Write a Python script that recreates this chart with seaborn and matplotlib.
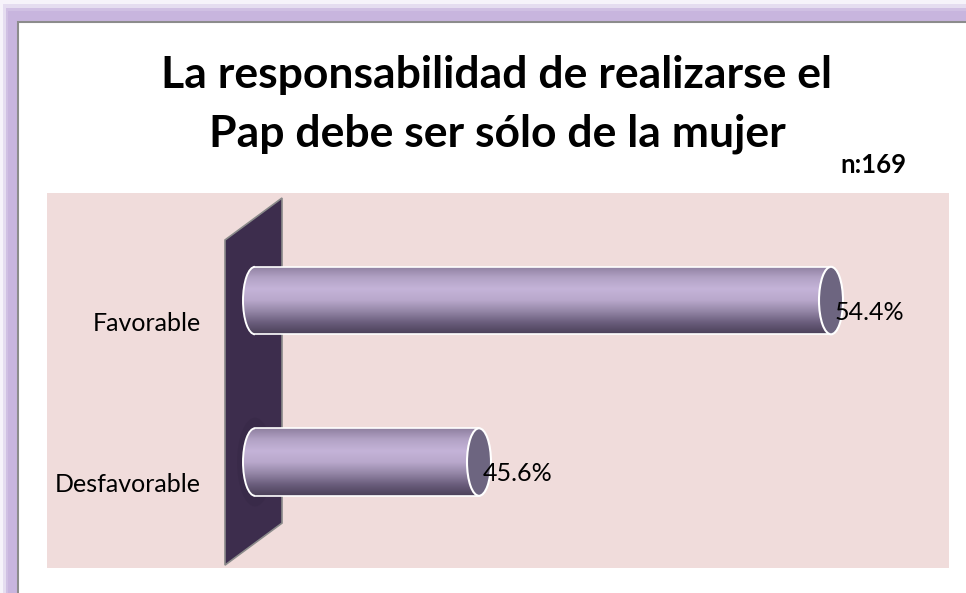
import numpy as np
import matplotlib
matplotlib.use('Agg')
import matplotlib.pyplot as plt
import seaborn as sns
from matplotlib.patches import Polygon, Ellipse, Rectangle, Arc
from matplotlib.colors import LinearSegmentedColormap

# chart data
title_lines = ['La responsabilidad de realizarse el', 'Pap debe ser sólo de la mujer']
sample_note = 'n:169'
categories = ['Favorable', 'Desfavorable']
values = [54.4, 45.6]
axis_min = 40.0   # the value axis does not start at zero

W, H = 966, 593

sns.set_theme(style='white')
plt.rcParams['font.family'] = ['Lato', 'DejaVu Sans']
plt.rcParams['text.color'] = 'black'


def fx(px):
    return px / W


def fy(py):
    return 1 - py / H


fig = plt.figure(figsize=(W / 100, H / 100), dpi=100)
fig.patch.set_facecolor('white')

# lavender glow round the white card
glow = '#c8b5de'
for dx, dy, a in [(18, 22, 0.15), (15, 18, 0.35), (12, 14, 0.7), (10, 11, 1.0)]:
    fig.patches.append(Rectangle((fx(18 - dx), 0), 1.5, fy(22 - dy), transform=fig.transFigure,
                                 facecolor=glow, edgecolor='none', alpha=a, zorder=0))
fig.patches.append(Rectangle((fx(18), -0.1), 1.5, fy(22) + 0.1, transform=fig.transFigure,
                             facecolor='white', edgecolor='#8c8c8c', lw=1.5, zorder=0.5))

ax = fig.add_axes([fx(47), fy(568), (949 - 47) / W, (568 - 193) / H])
ax.set_zorder(2)
ax.set_facecolor('#f0dcdb')

bar_h = 0.418
shifted = [v - axis_min for v in values]
sns.barplot(x=shifted, y=categories, orient='h', width=bar_h, color='#c4b3d8',
            saturation=1, ax=ax)

# the back wall of the 3-d chart
wall = Polygon([(-0.75, -0.375), (0.675, -0.635), (0.675, 1.378), (-0.75, 1.638)],
               closed=True, facecolor='#3d2d4d', edgecolor='#8a8a8a', lw=1.2, zorder=1)
ax.add_patch(wall)
for s, a in [(1.0, 0.08), (0.75, 0.1), (0.5, 0.12), (0.3, 0.15)]:
    ax.add_patch(Ellipse((0.0, 1.0), 0.9 * s, 0.55 * s, facecolor='#150c1f',
                         edgecolor='none', alpha=a, zorder=1.5))

cmap = LinearSegmentedColormap.from_list(
    'cyl', ['#8e7f9f', '#b2a2c5', '#c4b3d8', '#b9a8cc', '#9486a6', '#6a5d7c', '#4b4058'])
grad = np.linspace(0, 1, 256).reshape(-1, 1)
cap_w = 0.6

for patch, v in zip(list(ax.patches), values):
    if not isinstance(patch, Rectangle):
        continue
    x0, y0 = patch.get_x(), patch.get_y()
    w, h = patch.get_width(), patch.get_height()
    yc = y0 + h / 2
    patch.set_facecolor('none')
    patch.set_edgecolor('none')
    left = Ellipse((x0, yc), cap_w, h, transform=ax.transData)
    for shape in (patch, left):
        im = ax.imshow(grad, cmap=cmap, aspect='auto', interpolation='bicubic',
                       extent=[x0 - cap_w, x0 + w, y0 + h, y0], zorder=3)
        im.set_clip_path(shape)
    ax.add_patch(Arc((x0, yc), cap_w, h, theta1=90, theta2=270, color='white', lw=1.4, zorder=3.5))
    ax.plot([x0, x0 + w], [y0, y0], color='white', lw=1.2, zorder=3.5)
    ax.plot([x0, x0 + w], [y0 + h, y0 + h], color='white', lw=1.2, zorder=3.5)
    ax.add_patch(Ellipse((x0 + w, yc), cap_w, h, facecolor='#6d6580', edgecolor='white',
                         lw=1.5, zorder=4))
    ax.text(x0 + w + 0.1, yc + 0.12, f'{v:.1f}%', ha='left', va='baseline',
            fontsize=18, color='black', zorder=5)

for i, cat in enumerate(categories):
    ax.text(-1.35, i + 0.186, cat, ha='right', va='baseline', fontsize=18, color='black')

ax.set_xlim(-5.2, 17.35)
ax.set_ylim(1.656, -0.666)
ax.set_xticks([])
ax.set_yticks([])
ax.set_xlabel('')
ax.set_ylabel('')
for sp in ax.spines.values():
    sp.set_visible(False)

fig.text(fx(497), fy(88), title_lines[0], ha='center', va='baseline', color='black',
         fontsize=32, fontweight='bold', zorder=3)
fig.text(fx(497), fy(147), title_lines[1], ha='center', va='baseline', color='black',
         fontsize=32, fontweight='bold', zorder=3)
fig.text(fx(840), fy(173), sample_note, ha='left', va='baseline', color='black',
         fontsize=18.5, fontweight='bold', zorder=3)

fig.savefig('out.png', dpi=100)
